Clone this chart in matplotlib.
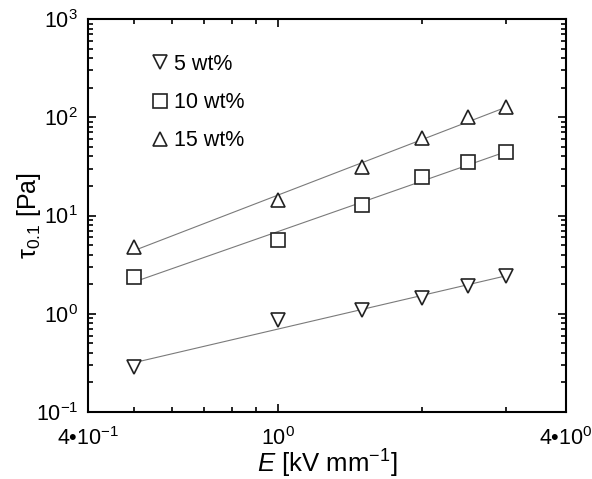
import numpy as np
import matplotlib
matplotlib.use("Agg")
import matplotlib.pyplot as plt
from matplotlib.ticker import FixedLocator, LogLocator, NullFormatter

plt.rcParams['font.family'] = ['Liberation Sans', 'DejaVu Sans']
plt.rcParams['mathtext.fontset'] = 'custom'
plt.rcParams['mathtext.rm'] = 'Liberation Sans'
plt.rcParams['mathtext.it'] = 'Liberation Sans:italic'

# electric field strength (kV/mm)
E = [0.5, 1.0, 1.5, 2.0, 2.5, 3.0]
# yield stress tau_0.1 (Pa) per concentration
tau_5 = [0.284, 0.87, 1.10, 1.44, 1.92, 2.43]
tau_10 = [2.39, 5.6, 12.8, 24.5, 35.3, 44.0]
tau_15 = [4.83, 14.5, 31.0, 61.0, 100.0, 126.0]
labels = ["5 wt%", "10 wt%", "15 wt%"]
markers = ["v", "s", "^"]
xtick_vals = [0.4, 1, 4]
xtick_labels = ["4•10$^{-1}$", "10$^{0}$", "4•10$^{0}$"]
ytick_vals = [0.1, 1, 10, 100, 1000]
ytick_labels = ["10$^{-1}$", "10$^{0}$", "10$^{1}$", "10$^{2}$", "10$^{3}$"]

fig = plt.figure(figsize=(5.92, 4.79), dpi=100)
ax = fig.add_axes([0.1486, 0.1399, 0.8074, 0.8204])

for y, lab, m in zip([tau_5, tau_10, tau_15], labels, markers):
    # power-law fit through the points
    p = np.polyfit(np.log10(E), np.log10(y), 1)
    xf = np.linspace(E[0], E[-1], 50)
    ax.plot(xf, 10 ** np.polyval(p, np.log10(xf)), color='#7a7a7a', lw=0.8, zorder=1)
    ax.plot(E, y, linestyle='none', marker=m, ms=10, mfc='white', mec='#222222',
            mew=1.2, label=lab, zorder=2)

ax.set_xscale('log')
ax.set_yscale('log')
ax.set_xlim(0.4, 4)
ax.set_ylim(0.1, 1000)

ax.xaxis.set_major_locator(FixedLocator(xtick_vals))
ax.set_xticklabels(xtick_labels, fontsize=15.5)
ax.xaxis.set_minor_locator(FixedLocator([0.5, 0.6, 0.7, 0.8, 0.9, 2, 3]))
ax.xaxis.set_minor_formatter(NullFormatter())
ax.yaxis.set_major_locator(FixedLocator(ytick_vals))
ax.set_yticklabels(ytick_labels, fontsize=15.5)
ax.yaxis.set_minor_locator(LogLocator(base=10, subs=np.arange(2, 10), numticks=20))
ax.yaxis.set_minor_formatter(NullFormatter())

ax.tick_params(which='both', direction='in', top=True, right=True, width=1.2)
ax.tick_params(which='major', length=6, pad=7)
ax.tick_params(axis='x', which='major', pad=11)
ax.tick_params(which='minor', length=3.5)
for s in ax.spines.values():
    s.set_linewidth(1.5)

ax.set_xlabel("$E$ [kV mm$^{-1}$]", fontsize=18.5)
ax.xaxis.set_label_coords(0.5, -0.092)
ax.set_ylabel("τ$_{0.1}$ [Pa]", fontsize=18)
ax.yaxis.set_label_coords(-0.094, 0.5)

ax.legend(loc='upper left', frameon=False, fontsize=15.5, handletextpad=0.05,
          handlelength=1.2, labelspacing=0.8, borderaxespad=0.0,
          bbox_to_anchor=(0.105, 0.933))

fig.savefig("out.png", dpi=100)
